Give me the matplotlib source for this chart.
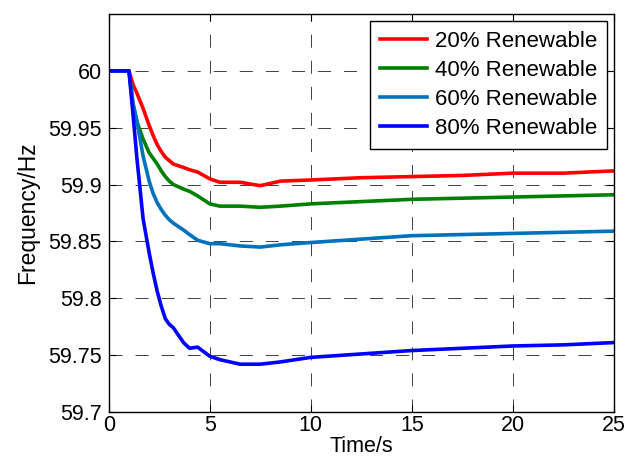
import matplotlib
matplotlib.use("Agg")
import matplotlib.pyplot as plt

plt.rcParams['font.family'] = ['Liberation Sans', 'DejaVu Sans']

time_s = [0, 1.0, 1.2, 1.4, 1.7, 2.0, 2.2, 2.4, 2.6, 2.8, 3.0, 3.2, 3.7, 4.0, 4.4,
          5.0, 5.5, 6.5, 7.5, 8.5, 10, 12.5, 15, 17.5, 20, 22.5, 25]
freq_20 = [60, 60, 59.988, 59.980, 59.967, 59.952, 59.943, 59.935, 59.929, 59.924,
           59.921, 59.918, 59.915, 59.913, 59.911, 59.905, 59.902, 59.902, 59.899,
           59.903, 59.904, 59.906, 59.907, 59.908, 59.910, 59.910, 59.912]
freq_40 = [60, 60, 59.970, 59.955, 59.940, 59.928, 59.923, 59.918, 59.912, 59.907,
           59.903, 59.900, 59.896, 59.894, 59.890, 59.883, 59.881, 59.881, 59.880,
           59.881, 59.883, 59.885, 59.887, 59.888, 59.889, 59.890, 59.891]
freq_60 = [60, 60, 59.972, 59.955, 59.925, 59.903, 59.892, 59.884, 59.878, 59.873,
           59.869, 59.866, 59.860, 59.856, 59.851, 59.848, 59.848, 59.846, 59.845,
           59.847, 59.849, 59.852, 59.855, 59.856, 59.857, 59.858, 59.859]
freq_80 = [60, 60, 59.962, 59.922, 59.870, 59.840, 59.822, 59.806, 59.793, 59.782,
           59.777, 59.774, 59.761, 59.756, 59.757, 59.749, 59.746, 59.742, 59.742,
           59.744, 59.748, 59.751, 59.754, 59.756, 59.758, 59.759, 59.761]

labels = ['20% Renewable', '40% Renewable', '60% Renewable', '80% Renewable']
colors = ['#ff0000', '#008000', '#0072bd', '#0000ff']
x_ticks = [0, 5, 10, 15, 20, 25]
y_ticks = [59.7, 59.75, 59.8, 59.85, 59.9, 59.95, 60]
y_tick_labels = ['59.7', '59.75', '59.8', '59.85', '59.9', '59.95', '60']

fig = plt.figure(figsize=(6.25, 4.66), dpi=100)
ax = fig.add_axes([0.174, 0.116, 0.808, 0.854])

for ys, lab, c in zip([freq_20, freq_40, freq_60, freq_80], labels, colors):
    ax.plot(time_s, ys, color=c, lw=2.6, label=lab, solid_joinstyle='round')

ax.set_xlim(0, 25)
ax.set_ylim(59.7, 60.05)
ax.set_xticks(x_ticks)
ax.set_yticks(y_ticks)
ax.set_yticklabels(y_tick_labels)
ax.tick_params(direction='in', top=True, right=True, labelsize=15.5, length=5, width=0.8)
ax.tick_params(axis='y', pad=5)
ax.tick_params(axis='x', pad=2)
ax.grid(True, color='#404040', linestyle=(0, (13.4, 13.4)), linewidth=0.7)
for sp in ax.spines.values():
    sp.set_linewidth(1.0)

ax.set_xlabel('Time/s', fontsize=15.5, labelpad=0)
ax.set_ylabel('Frequency/Hz', fontsize=16.5)
ax.yaxis.set_label_coords(-0.137, 0.5)

leg = ax.legend(loc='upper right', fontsize=16, fancybox=False, framealpha=1,
                edgecolor='black', handlelength=2.1, labelspacing=0.36,
                borderaxespad=0.3, handletextpad=0.35, borderpad=0.45)
leg.get_frame().set_linewidth(1.0)

fig.savefig('out.png', dpi=100)
